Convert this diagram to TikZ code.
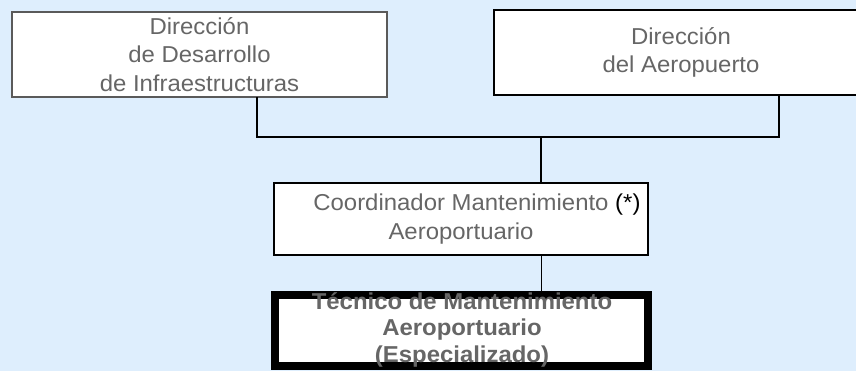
\documentclass[tikz,border=0pt]{standalone}
\usepackage{fontspec}
\setmainfont{Liberation Sans}[FakeStretch=1.04]
\definecolor{bg}{RGB}{222,238,253}
\definecolor{txt}{RGB}{102,102,102}
\definecolor{bordergray}{RGB}{90,90,90}
\begin{document}
\begin{tikzpicture}[x=1pt,y=-1pt,
  orgbox/.style={draw=black, fill=white, line width=1.5pt, inner sep=0pt, outer sep=0pt,
    text=txt, align=center, font=\fontsize{23}{28.5}\selectfont},
  conn/.style={draw=black, line width=2pt},
  thinconn/.style={draw=black, line width=1pt},
]
\fill[bg] (0,0) rectangle (856,371);
\useasboundingbox (0,0) rectangle (856,371);

\node[orgbox, draw=bordergray, minimum width=375pt, minimum height=85pt] (b1) at (199.5,54.5)
  {Dirección\\de Desarrollo\\de Infraestructuras};
\node[orgbox, minimum width=374pt, minimum height=85pt] (b2) at (681,52.5)
  {Dirección\\del Aeropuerto};
\node[orgbox, minimum width=374pt, minimum height=72pt] (co) at (461,219)
  {Coordinador Mantenimiento\rlap{ \textcolor{black}{(*)}}\\Aeroportuario};
\node[draw=black, fill=white, line width=8pt, inner sep=0pt, outer sep=0pt,
  minimum width=373pt, minimum height=71pt] (tec) at (461.5,330.5) {};
\node[text=txt, align=center, inner sep=0pt, font=\bfseries\fontsize{23}{26.5}\selectfont] (tect) at (462,329.5)
  {Técnico de Mantenimiento\\Aeroportuario\\(Especializado)};

\coordinate (j1) at (257,137.5);
\coordinate (j2) at (779,137.5);
\coordinate (j3) at (541,137.5);
\draw[conn] (b1.south -| j1) -- (j1) -- (j2) -- (b2.south -| j2);
\draw[conn] (j3) -- (co.north -| j3);
\draw[thinconn] (co.south -| j3) -- (tec.north -| j3);
\end{tikzpicture}
\end{document}
